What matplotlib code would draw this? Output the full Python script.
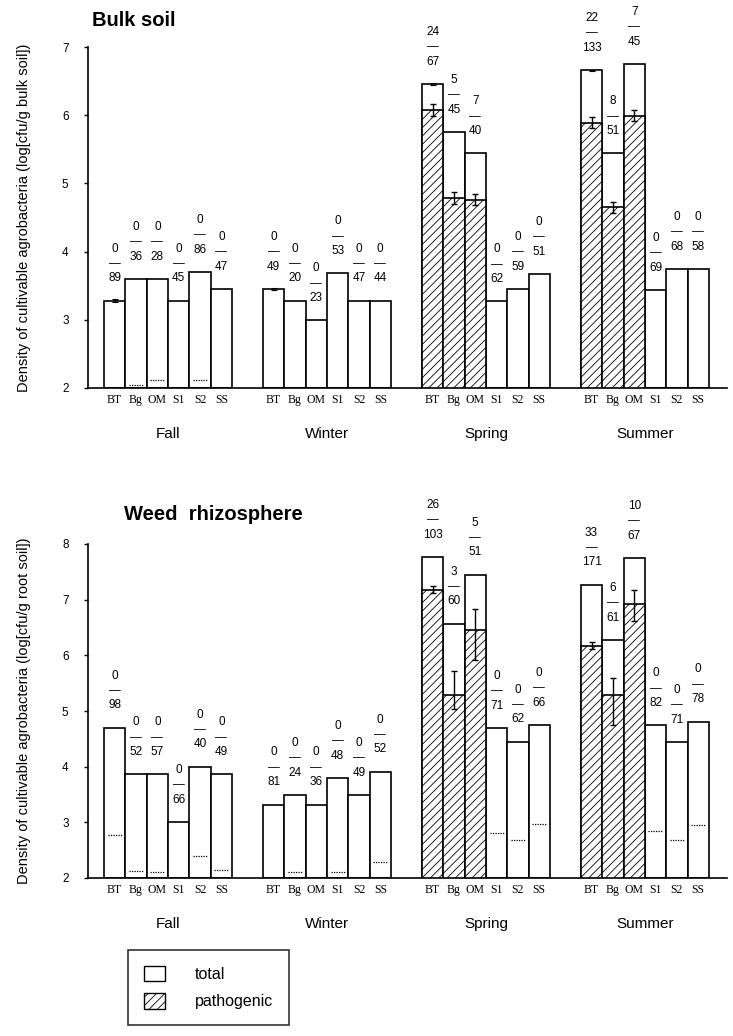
import numpy as np
import matplotlib
matplotlib.use('Agg')
import matplotlib.pyplot as plt
from matplotlib.patches import Patch

plt.rcParams['font.family'] = ['Liberation Sans', 'DejaVu Sans']
plt.rcParams['hatch.linewidth'] = 0.6

nan = np.nan
seasons = ['Fall', 'Winter', 'Spring', 'Summer']
sites = ['BT', 'Bg', 'OM', 'S1', 'S2', 'SS']

# Bulk soil (4 seasons x 6 sites)
bulk_total = [3.28, 3.60, 3.60, 3.28, 3.70, 3.45,
              3.45, 3.28, 2.99, 3.68, 3.28, 3.28,
              6.46, 5.75, 5.44, 3.27, 3.45, 3.67,
              6.66, 5.44, 6.75, 3.44, 3.74, 3.74]
bulk_total_err = [0.02, 0, 0, 0, 0, 0,
                  0.01, 0, 0, 0, 0, 0,
                  0.01, 0, 0, 0, 0, 0,
                  0.01, 0, 0, 0, 0, 0]
bulk_patho = [nan] * 12 + [6.08, 4.79, 4.76, nan, nan, nan,
                           5.89, 4.65, 5.99, nan, nan, nan]
bulk_err_hi = [0] * 12 + [0.09, 0.09, 0.08, 0, 0, 0,
                          0.08, 0.08, 0.08, 0, 0, 0]
bulk_err_lo = bulk_err_hi
bulk_dotted = [nan, 2.05, 2.11, nan, 2.12, nan] + [nan] * 18
bulk_num = ['0', '0', '0', '0', '0', '0',
            '0', '0', '0', '0', '0', '0',
            '24', '5', '7', '0', '0', '0',
            '22', '8', '7', '0', '0', '0']
bulk_den = ['89', '36', '28', '45', '86', '47',
            '49', '20', '23', '53', '47', '44',
            '67', '45', '40', '62', '59', '51',
            '133', '51', '45', '69', '68', '58']

# Weed rhizosphere
weed_total = [4.70, 3.86, 3.86, 3.00, 4.00, 3.86,
              3.32, 3.49, 3.32, 3.79, 3.49, 3.91,
              7.76, 6.57, 7.45, 4.69, 4.45, 4.75,
              7.27, 6.27, 7.75, 4.74, 4.44, 4.81]
weed_total_err = [0] * 24
weed_patho = [nan] * 12 + [7.17, 5.29, 6.46, nan, nan, nan,
                           6.16, 5.28, 6.93, nan, nan, nan]
weed_err_hi = [0] * 12 + [0.07, 0.43, 0.38, 0, 0, 0,
                          0.08, 0.31, 0.25, 0, 0, 0]
weed_err_lo = [0] * 12 + [0.05, 0.26, 0.55, 0, 0, 0,
                          0.05, 0.53, 0.32, 0, 0, 0]
weed_dotted = [2.77, 2.13, 2.10, nan, 2.39, 2.14,
               nan, 2.10, nan, 2.10, nan, 2.28,
               nan, nan, nan, 2.80, 2.68, 2.97,
               nan, nan, nan, 2.85, 2.68, 2.96]
weed_num = ['0', '0', '0', '0', '0', '0',
            '0', '0', '0', '0', '0', '0',
            '26', '3', '5', '0', '0', '0',
            '33', '6', '10', '0', '0', '0']
weed_den = ['98', '52', '57', '66', '40', '49',
            '81', '24', '36', '48', '49', '52',
            '103', '60', '51', '71', '62', '66',
            '171', '61', '67', '82', '71', '78']

GROUP_STEP = 7.45
x = np.array([g * GROUP_STEP + i + 0.5 for g in range(4) for i in range(6)])


def draw_panel(ax, total, total_err, patho, err_lo, err_hi, dotted, num, den,
               ymax, ylabel):
    total = np.array(total)
    patho = np.array(patho)
    ax.bar(x, total - 2, bottom=2, width=1, facecolor='white',
           edgecolor='black', linewidth=1.2, zorder=2)
    m = ~np.isnan(patho)
    ax.bar(x[m], patho[m] - 2, bottom=2, width=1, facecolor='white',
           edgecolor='black', linewidth=1.2, hatch='////', zorder=3)
    e = np.array(err_hi) > 0
    ax.errorbar(x[e], patho[e],
                yerr=[np.array(err_lo)[e], np.array(err_hi)[e]],
                fmt='none', ecolor='black', elinewidth=1.0, capsize=2.5,
                capthick=1.0, zorder=4)
    te = np.array(total_err) > 0
    if te.any():
        ax.errorbar(x[te], total[te], yerr=np.array(total_err)[te],
                    fmt='none', ecolor='black', elinewidth=0.8, capsize=2.5,
                    capthick=0.8, zorder=4)
    d = np.array(dotted)
    dm = ~np.isnan(d)
    ax.hlines(d[dm], x[dm] - 0.33, x[dm] + 0.33, colors='black',
              linestyles=(0, (1, 1)), linewidth=0.9, zorder=4)

    # n pathogenic / n total above each bar
    for xi, t, n, dd in zip(x, total, num, den):
        for txt, off in ((dd, 16), ('\u2014', 26.5), (n, 37.5)):
            ax.annotate(txt, xy=(xi, t), xytext=(0, off),
                        textcoords='offset points', ha='center', va='center',
                        fontsize=8.5, annotation_clip=False)

    for g, s in enumerate(seasons):
        ax.annotate(s, xy=(g * GROUP_STEP + 3, 0),
                    xycoords=('data', 'axes fraction'), xytext=(0, -33),
                    textcoords='offset points', ha='center', va='center',
                    fontsize=11)

    ax.set_xlim(-0.75, 29.2)
    ax.set_ylim(2, ymax)
    ax.set_xticks(x)
    ax.set_xticklabels(sites * 4, family='Liberation Serif', fontsize=8.5)
    ax.tick_params(axis='x', length=0, pad=4)
    ax.set_yticks(range(2, ymax + 1))
    ax.tick_params(axis='y', length=3, width=1, pad=11, labelsize=8.5)
    for sp in ['top', 'right']:
        ax.spines[sp].set_visible(False)
    ax.spines['left'].set_linewidth(1.2)
    ax.spines['bottom'].set_linewidth(1.2)
    ax.set_ylabel(ylabel, fontsize=10.5, labelpad=22)


fig = plt.figure(figsize=(7.33, 10.36), dpi=100)
ax1 = fig.add_axes([88 / 733, 1 - 388 / 1036, 639 / 733, 341 / 1036])
ax2 = fig.add_axes([88 / 733, 1 - 878 / 1036, 639 / 733, 334 / 1036])

draw_panel(ax1, bulk_total, bulk_total_err, bulk_patho, bulk_err_lo,
           bulk_err_hi, bulk_dotted, bulk_num, bulk_den, 7,
           'Density of cultivable agrobacteria (log[cfu/g bulk soil])')
draw_panel(ax2, weed_total, weed_total_err, weed_patho, weed_err_lo,
           weed_err_hi, weed_dotted, weed_num, weed_den, 8,
           'Density of cultivable agrobacteria (log[cfu/g root soil])')

fig.text(92 / 733, 1 - 20 / 1036, 'Bulk soil', fontsize=14.5,
         fontweight='bold', va='center')
fig.text(124 / 733, 1 - 515 / 1036, 'Weed  rhizosphere', fontsize=14.5,
         fontweight='bold', va='center')

handles = [Patch(facecolor='white', edgecolor='black', linewidth=1, label='total'),
           Patch(facecolor='white', edgecolor='black', linewidth=1,
                 hatch='////', label='pathogenic')]
leg = fig.legend(handles=handles, loc='upper left',
                 bbox_to_anchor=(128 / 733, 1 - 950 / 1036), fontsize=11.5,
                 frameon=True, fancybox=False, edgecolor='black',
                 handlelength=1.3, handleheight=1.1, handletextpad=1.9,
                 borderpad=1.0, borderaxespad=0, labelspacing=0.7)
leg.get_frame().set_linewidth(1.2)

fig.savefig('out.png', dpi=100)
